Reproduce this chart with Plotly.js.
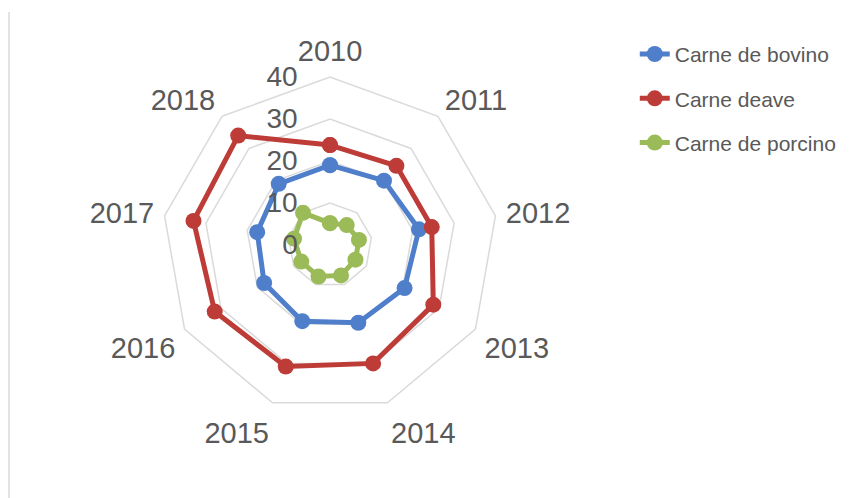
<!DOCTYPE html>
<html>
<head>
<meta charset="utf-8">
<script src="https://cdn.plot.ly/plotly-3.0.1.min.js"></script>
<style>html,body{margin:0;padding:0;background:#fff;}#chart{width:866px;height:498px;}</style>
</head>
<body>
<div id="chart"></div>
<script>
const years = ['2010','2011','2012','2013','2014','2015','2016','2017','2018'];
const bovino = [19, 20, 21.5, 20.5, 19.7, 19.3, 18.1, 17.6, 19];
const ave = [23.8, 24.6, 24.6, 28.4, 30, 30.8, 31.7, 33, 34];
const porcino = [5.2, 6.2, 7, 7, 7.7, 8, 7.9, 8.7, 10];
const seriesNames = ['Carne de bovino', 'Carne deave', 'Carne de porcino'];
const seriesColors = ['#4F7FCB', '#BE3C38', '#9BBB59'];
const radialTicks = [0, 10, 20, 30, 40];

const close = a => a.concat([a[0]]);
const cats = close(years);
const data = [bovino, ave, porcino].map((vals, i) => ({
  type: 'scatterpolar',
  r: close(vals),
  theta: cats,
  mode: 'lines+markers',
  name: seriesNames[i],
  legendgroup: 'g' + i,
  line: {color: seriesColors[i], width: 5},
  marker: {color: seriesColors[i], size: 16},
  cliponaxis: false
}));

const font = "'Liberation Sans', Arial, sans-serif";
const layout = {
  width: 866, height: 498,
  margin: {l: 0, r: 0, t: 0, b: 0},
  paper_bgcolor: '#ffffff',
  showlegend: true,
  legend: {
    x: 0.733, y: 0.932, xanchor: 'left', yanchor: 'top',
    font: {family: font, size: 21, color: '#595959'},
    traceorder: 'grouped', tracegroupgap: 14,
    bgcolor: 'rgba(0,0,0,0)'
  },
  polar: {
    domain: {x: [162/866, 498/866], y: [85/498, 421/498]},
    gridshape: 'linear',
    bgcolor: 'rgba(0,0,0,0)',
    angularaxis: {
      type: 'category',
      direction: 'clockwise', rotation: 90,
      categoryorder: 'array', categoryarray: years,
      showgrid: false,
      showline: true, linecolor: '#dadada', linewidth: 1.5,
      ticks: 'outside', ticklen: 4, tickcolor: 'rgba(0,0,0,0)',
      tickfont: {family: font, size: 29, color: '#595959'}
    },
    radialaxis: {
      range: [0, 40], tickvals: radialTicks, ticktext: radialTicks.map(String),
      angle: 90, side: 'counterclockwise',
      showline: false,
      gridcolor: '#dadada', gridwidth: 1.5,
      ticks: 'outside', ticklen: 22, tickcolor: 'rgba(0,0,0,0)',
      tickfont: {family: font, size: 28, color: '#595959'},
      tickangle: 90
    }
  },
  shapes: [{type: 'line', xref: 'paper', yref: 'paper', x0: 9/866, x1: 9/866, y0: 0, y1: 1 - 12/498,
            line: {color: '#e3e3e3', width: 2}}]
};
Plotly.newPlot('chart', data, layout, {displayModeBar: false, staticPlot: true});
</script>
</body>
</html>
